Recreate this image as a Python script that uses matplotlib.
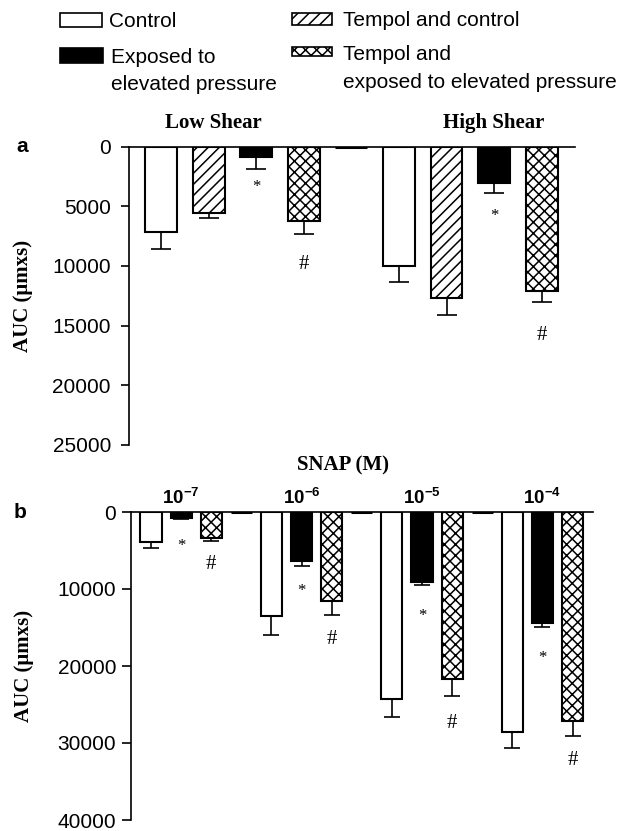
import numpy as np
import matplotlib.pyplot as plt
from matplotlib.patches import Rectangle

plt.rcParams['font.family'] = ['Liberation Sans', 'DejaVu Sans']
plt.rcParams['mathtext.fontset'] = 'custom'
plt.rcParams['mathtext.rm'] = 'Liberation Sans'
plt.rcParams['mathtext.bf'] = 'Liberation Sans:bold'
plt.rcParams['hatch.linewidth'] = 1.1

# ---- panel a: shear stress (AUC, um x s) ----
shear_labels = ['Low Shear', 'High Shear']
a_control = [7200, 10050]
a_control_err = [1375, 1320]
a_tempol_control = [5600, 12700]
a_tempol_control_err = [400, 1400]
a_exposed = [840, 3060]
a_exposed_err = [1030, 850]
a_tempol_exposed = [6230, 12100]
a_tempol_exposed_err = [1120, 900]
a_blank = [0]                 # empty column between the two groups
a_star = [3400, 5800]         # '*' under exposed bars
a_hash = [9900, 15800]        # '#' under tempol + exposed bars

# ---- panel b: SNAP doses ----
snap_labels = [r'$\mathbf{10^{-7}}$', r'$\mathbf{10^{-6}}$',
               r'$\mathbf{10^{-5}}$', r'$\mathbf{10^{-4}}$']
b_control = [3860, 13560, 24250, 28630]
b_control_err = [780, 2410, 2350, 2060]
b_exposed = [820, 6350, 9100, 14380]
b_exposed_err = [100, 650, 385, 560]
b_tempol_exposed = [3430, 11500, 21720, 27170]
b_tempol_exposed_err = [350, 1850, 2180, 1890]
b_blank = [0, 0, 0]
b_star = [4420, 10300, 13520, 18970]
b_hash = [6870, 16520, 27470, 32300]

styles = {
    'Control': dict(facecolor='white'),
    'Tempol and control': dict(facecolor='white', hatch='///'),
    'Exposed': dict(facecolor='black'),
    'Tempol and exposed': dict(facecolor='white', hatch='xxx'),
}

W, H = 636, 831
fig = plt.figure(figsize=(W / 100, H / 100), dpi=100)


def px_rect(l, t, r, b):
    return [l / W, 1 - b / H, (r - l) / W, (b - t) / H]


def fx(x):
    return x / W


def fy(y):
    return 1 - y / H


serif = dict(family='Liberation Serif', fontweight='bold', fontsize=15)
mark = dict(ha='center', va='center', family='Liberation Serif')


def draw_bars(ax, x, vals, errs, style, width, capsize):
    ax.bar(x, vals, width, edgecolor='black', linewidth=1.5, zorder=2, **style)
    ax.errorbar(x, vals, yerr=[np.zeros(len(vals)), errs], fmt='none',
                ecolor='black', elinewidth=1.2, capsize=capsize, capthick=1.2, zorder=3)


def style_axis(ax, ymax, step, xlim, pad, length):
    ax.set_ylim(ymax, 0)
    ax.set_xlim(*xlim)
    ax.set_yticks(np.arange(0, ymax + 1, step))
    ax.set_xticks([])
    ax.spines['right'].set_visible(False)
    ax.spines['bottom'].set_visible(False)
    ax.spines['top'].set_linewidth(1.2)
    ax.spines['left'].set_linewidth(1.2)
    ax.tick_params(axis='y', direction='out', length=length, width=1.2,
                   labelsize=15, pad=pad)
    ax.patch.set_visible(False)


# ---- panel a ----
ax_a = fig.add_axes(px_rect(129, 146.5, 575, 445))
ga = np.arange(2) * 5
wa = 0.67
draw_bars(ax_a, ga + 0, a_control, a_control_err, styles['Control'], wa, 7)
draw_bars(ax_a, ga + 1, a_tempol_control, a_tempol_control_err, styles['Tempol and control'], wa, 7)
draw_bars(ax_a, ga + 2, a_exposed, a_exposed_err, styles['Exposed'], wa, 7)
draw_bars(ax_a, ga + 3, a_tempol_exposed, a_tempol_exposed_err, styles['Tempol and exposed'], wa, 7)
ax_a.bar([4], a_blank, wa, facecolor='none', edgecolor='black', linewidth=2.2)
style_axis(ax_a, 25000, 5000, (-0.672, 8.70), 7, 6)

for g, lab in zip(ga, shear_labels):
    ax_a.annotate(lab, xy=(g + (1.1 if g == 0 else 2.0), 0), xytext=(0, 13),
                  textcoords='offset points', ha='center', va='baseline',
                  annotation_clip=False, **serif)
for g, s, h in zip(ga, a_star, a_hash):
    ax_a.text(g + 2, s, '*', fontsize=12, **mark)
    ax_a.text(g + 3, h, '#', fontsize=15, **mark)

# ---- panel b ----
ax_b = fig.add_axes(px_rect(131, 512, 593, 820))
gb = np.arange(4) * 4
wb = 0.70
draw_bars(ax_b, gb + 0, b_control, b_control_err, styles['Control'], wb, 5.5)
draw_bars(ax_b, gb + 1, b_exposed, b_exposed_err, styles['Exposed'], wb, 5.5)
draw_bars(ax_b, gb + 2, b_tempol_exposed, b_tempol_exposed_err, styles['Tempol and exposed'], wb, 5.5)
ax_b.bar(gb[:3] + 3, b_blank, wb, facecolor='none', edgecolor='black', linewidth=2.2)
style_axis(ax_b, 40000, 10000, (-0.664, 14.68), 4, 6.7)

for g, lab in zip(gb, snap_labels):
    ax_b.annotate(lab, xy=(g + 1, 0), xytext=(0, 5.8), textcoords='offset points',
                  ha='center', va='baseline', fontsize=13.5, annotation_clip=False)
for g, s, h in zip(gb, b_star, b_hash):
    ax_b.text(g + 1, s, '*', fontsize=12, **mark)
    ax_b.text(g + 2, h, '#', fontsize=15, **mark)

# ---- axis labels / panel letters ----
fig.text(fx(23), fy(296), 'AUC (μmxs)', rotation=90, ha='center', va='center', **serif)
fig.text(fx(24), fy(666), 'AUC (μmxs)', rotation=90, ha='center', va='center', **serif)
fig.text(fx(22), fy(147), 'a', ha='center', va='center', fontsize=15, fontweight='bold')
fig.text(fx(20), fy(513), 'b', ha='center', va='center', fontsize=15, fontweight='bold')
fig.text(fx(343), fy(465), 'SNAP (M)', ha='center', va='center', **serif)

# ---- legend (drawn by hand to match layout) ----
legend_boxes = [
    ('Control', (60, 13, 102, 27)),
    ('Exposed', (60, 48, 103, 63)),
    ('Tempol and control', (292, 13, 332, 25)),
    ('Tempol and exposed', (292, 47, 332, 56)),
]
for key, (l, t, r, b) in legend_boxes:
    fig.add_artist(Rectangle((fx(l), fy(b)), (r - l) / W, (b - t) / H,
                             transform=fig.transFigure, edgecolor='black',
                             linewidth=1.2, **styles[key]))

legend_lines = [
    ('Control', 109, 27),
    ('Exposed to', 111, 63),
    ('elevated pressure', 111, 90),
    ('Tempol and control', 343, 26.5),
    ('Tempol and', 343, 60),
    ('exposed to elevated pressure', 343, 88),
]
for txt, x, y in legend_lines:
    fig.text(fx(x), fy(y), txt, ha='left', va='baseline', fontsize=15)

fig.savefig('out.png', dpi=100)
